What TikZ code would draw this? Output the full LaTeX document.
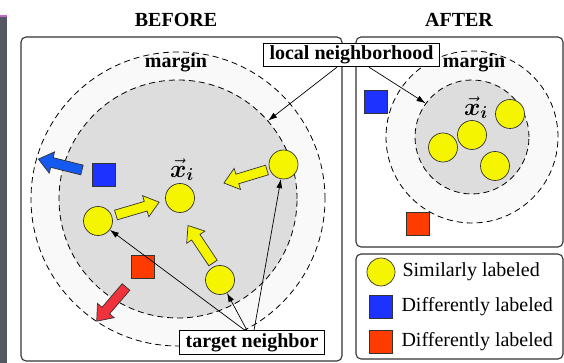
\documentclass[tikz,border=0pt]{standalone}
\usepackage{amsmath}
\usepackage{fontspec}
\setmainfont{Liberation Serif}
\usetikzlibrary{positioning, arrows.meta}

\definecolor{dotyellow}{RGB}{245,245,0}
\definecolor{sqblue}{RGB}{30,50,255}
\definecolor{arrblue}{RGB}{20,90,240}
\definecolor{sqred}{RGB}{255,60,0}
\definecolor{arrred}{RGB}{240,50,60}
\definecolor{ringgray}{RGB}{249,249,249}
\definecolor{coregray}{RGB}{221,221,221}
\definecolor{slidegray}{RGB}{84,88,98}
\definecolor{slidepurple}{RGB}{190,110,200}

\begin{document}
\begin{tikzpicture}[
    x=1pt, y=1pt,
    font=\fontsize{20}{24}\selectfont,
    >=Latex,
    panelbox/.style={
        draw=black!80,
        line width=1.1pt,
        rounded corners=5pt,
        fill=white
    },
    ringout/.style={
        circle,
        draw=black,
        dash pattern=on 6pt off 4pt,
        line width=0.8pt,
        fill=ringgray,
        inner sep=0pt
    },
    ringin/.style={ringout, fill=coregray},
    simdot/.style={
        circle,
        draw=black!80,
        line width=0.7pt,
        fill=dotyellow,
        minimum size=29pt,
        inner sep=0pt
    },
    diffsq/.style={
        rectangle,
        draw=black!80,
        line width=0.7pt,
        minimum size=23pt,
        inner sep=0pt
    },
    lblbox/.style={
        draw=black,
        line width=1pt,
        fill=white,
        font=\fontsize{20}{24}\selectfont\bfseries,
        inner xsep=6pt,
        inner ysep=2.5pt
    },
    titletext/.style={font=\fontsize{20}{24}\selectfont\bfseries, anchor=base, inner sep=0pt},
    xilabel/.style={font=\fontsize{24}{28}\selectfont, inner sep=0pt},
    legtext/.style={anchor=west, inner sep=1pt},
    nbarrow/.style={-{Latex[length=9pt,width=6pt]}, line width=0.7pt},
    fatarrow/.pic={
        \draw[pic actions, line width=0.7pt, draw=black!80]
            (0,-5) -- (31,-5) -- (31,-11) -- (45,0) -- (31,11) -- (31,5) -- (0,5) -- cycle;
    }
]
\useasboundingbox (0,0) rectangle (564,363);
% ============================================================
% slide edge on the left
% ============================================================
\fill[slidegray] (0,0) rectangle (7,346);
\fill[slidepurple] (0,346) rectangle (7,348);
% ============================================================
% PANELS
% ============================================================
\draw[panelbox] (21,2) rectangle (342,326);
\draw[panelbox] (356,116) rectangle (563,326);
\draw[panelbox] (356,4) rectangle (563,109);
\node[titletext] (before) at (176,336) {BEFORE};
\node[titletext] (after) at (459,336) {AFTER};
% ============================================================
% BEFORE -- neighborhood and margin
% ============================================================
\node[ringout, minimum size=294pt] (Lout) at (178,164) {};
\node[ringin, minimum size=238pt] (Lin) at (178,164) {};
\node[titletext] (Lmargin) at (176,295) {margin};
% points
\node[simdot] (xi) at (180,165) {};
\node[xilabel] (Lxi) at (182,193) {$\vec{\boldsymbol{x}}_{\boldsymbol{i}}$};
\node[simdot] (c1) at (98,142) {};
\node[simdot] (c2) at (220,83) {};
\node[simdot] (c3) at (283.5,198.5) {};
\node[diffsq, fill=sqblue] (Lblue) at (103.5,188) {};
\node[diffsq, fill=sqred] (Lred) at (143,96.5) {};
% pulled in / pushed out
\pic[fill=dotyellow, rotate=16.5] at (116,148) {fatarrow};
\pic[fill=dotyellow, rotate=123.7] at (213,100) {fatarrow};
\pic[fill=dotyellow, rotate=196.8] at (267,193) {fatarrow};
\pic[fill=arrblue, rotate=166] at (82,193) {fatarrow};
\pic[fill=arrred, rotate=229.4] at (126,76) {fatarrow};
% ============================================================
% AFTER
% ============================================================
\node[ringout, minimum size=172pt] (Rout) at (472,226) {};
\node[ringin, minimum size=114pt] (Rin) at (472,226) {};
\node[titletext] (Rmargin) at (474,295) {margin};
\node[simdot] (d1) at (510,249) {};
\node[simdot] (d2) at (472,228) {};
\node[simdot] (d3) at (443,215.5) {};
\node[simdot] (d4) at (495,197) {};
\node[xilabel] (Rxi) at (476,255) {$\vec{\boldsymbol{x}}_{\boldsymbol{i}}$};
\node[diffsq, fill=sqblue] (Rblue) at (375.5,261.5) {};
\node[diffsq, fill=sqred] (Rred) at (417.5,139) {};
% ============================================================
% LEGEND
% ============================================================
\node[simdot, minimum size=28pt] (legc) at (381,91) {};
\node[diffsq, fill=sqblue] (legb) at (381,56) {};
\node[diffsq, fill=sqred] (legr) at (381,21.5) {};
\node[legtext, right=6pt of legc] {Similarly labeled};
\node[legtext, right=7.5pt of legb] {Differently labeled};
\node[legtext, right=7.5pt of legr] {Differently labeled};
% ============================================================
% CALLOUTS
% ============================================================
\node[lblbox] (ln) at (351.5,308) {local neighborhood};
\node[lblbox] (tn) at (252,20.5) {target neighbor};
\draw[nbarrow] ([xshift=-14.5pt]ln.south) -- (Lin.41);
\draw[nbarrow] ([xshift=17.5pt]ln.south) -- (Rin.144);
\draw[nbarrow] ([xshift=-7pt]tn.north) -- (c1);
\draw[nbarrow] ([xshift=-5pt]tn.north) -- (c2);
\draw[nbarrow] ([xshift=2pt]tn.north) -- (c3);
\end{tikzpicture}
\end{document}
